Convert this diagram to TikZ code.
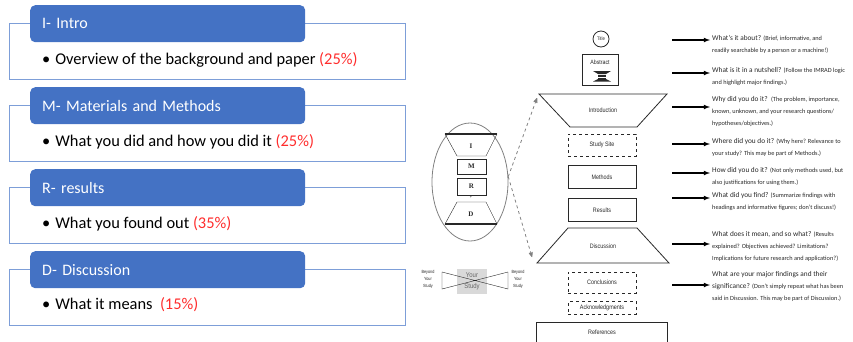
\documentclass[tikz,border=0pt]{standalone}
\usepackage{fontspec}
\setmainfont{Carlito}
\newfontfamily\narrowfont[FakeStretch=0.85]{Liberation Sans}
\newfontfamily\serifbold{Liberation Serif}
\usetikzlibrary{positioning, arrows, shapes}

\definecolor{hdrblue}{RGB}{68,114,196}
\definecolor{panelblue}{RGB}{125,158,216}
\definecolor{pctred}{RGB}{255,45,45}
\definecolor{inkgray}{RGB}{40,40,40}

\newcommand{\pct}[1]{\textcolor{pctred}{#1}}
\newcommand{\qmain}{\fontsize{7.3}{10.3}\selectfont}
\newcommand{\qnote}{\fontsize{6.3}{10.3}\selectfont}

\begin{document}
\begin{tikzpicture}[x=1pt, y=-1pt, >=latex,
    panel/.style={draw=panelblue, line width=1.2pt, minimum width=396pt, minimum height=56pt, anchor=north west, inner sep=0pt},
    hdr/.style={fill=hdrblue, rounded corners=5pt, minimum height=37pt, text width=251pt, inner xsep=12pt, align=left, anchor=north west, text=white, font=\fontsize{16}{19}\selectfont},
    bul/.style={anchor=west, inner sep=0pt, font=\fontsize{16.4}{19}\selectfont},
    part/.style={draw=inkgray, thick, minimum width=68pt, text=inkgray, font=\narrowfont\fontsize{6.4}{7}\selectfont},
    opt/.style={part, dashed},
    trap/.style={draw=inkgray, thick},
    lbl/.style={text=inkgray, inner sep=0pt, font=\narrowfont\fontsize{6.4}{7}\selectfont},
    letter/.style={draw=inkgray, minimum width=29pt, text=inkgray, font=\serifbold\bfseries\fontsize{7}{8}\selectfont},
    tiny/.style={text=inkgray, inner sep=0pt, align=center, font=\narrowfont\fontsize{4.5}{7}\selectfont},
    ask/.style={anchor=north west, inner sep=0pt, align=left, text=inkgray},
    qarrow/.style={->, line width=1.1pt},
    linkarrow/.style={->, dashed, gray, thick, >=stealth'}
  ]
  \useasboundingbox (0,0) rectangle (853,341);

  % IMRAD panels
  \node[panel] (introbox) at (9,23) {};
  \node[hdr] (introhdr) at (30,5) {I- Intro};
  \node[bul] (introtxt) at (42,60) {\textbullet\hspace{5pt}Overview of the background and paper \pct{(25\%)}};

  \node[panel] (methbox) at (9,105) {};
  \node[hdr] (methhdr) at (30,87) {M- Materials and Methods};
  \node[bul] (methtxt) at (42,142) {\textbullet\hspace{5pt}What you did and how you did it \pct{(25\%)}};

  \node[panel] (resbox) at (9,187) {};
  \node[hdr] (reshdr) at (30,169) {R- results};
  \node[bul] (restxt) at (42,224) {\textbullet\hspace{5pt}What you found out \pct{(35\%)}};

  \node[panel] (discbox) at (9,269) {};
  \node[hdr] (dischdr) at (30,251) {D- Discussion};
  \node[bul] (disctxt) at (42,305) {\textbullet\hspace{5pt}What it means~~\pct{(15\%)}};

  % hourglass in the oval
  \node[draw=gray, thick, ellipse, minimum width=76pt, minimum height=118pt] (imrad) at (470,182) {};
  \draw[draw=inkgray] (445,134) -- (497,134) -- (486,156) -- (457,156) -- cycle;
  \draw[draw=inkgray, line width=1.4pt] (445,134) -- (497,134);
  \node[lbl, font=\serifbold\bfseries\fontsize{7}{8}\selectfont] (iltr) at (471,146) {I};
  \node[letter, minimum height=15pt] (mltr) at (471.5,166.5) {M};
  \node[letter, minimum height=17pt] (rltr) at (471.5,186.5) {R};
  \node[tiny] (plus) at (471,197.5) {+};
  \draw[draw=inkgray] (457,202) -- (486,202) -- (497,224) -- (445,224) -- cycle;
  \draw[draw=inkgray, line width=1.4pt] (445,224) -- (497,224);
  \node[lbl, font=\serifbold\bfseries\fontsize{7}{8}\selectfont] (dltr) at (471,214) {D};

  % your study
  \node[fill=gray!30, minimum width=30pt, minimum height=25pt, text=gray!80!black, align=center, font=\narrowfont\fontsize{7}{6}\selectfont] (study) at (472,281.5) {Your\\[5pt]Study};
  \draw[inkgray] (442,272) -- (442,289) -- (508,272) -- (508,289) -- cycle;
  \node[tiny] (beyondl) at (428,279) {Beyond\\Your\\Study};
  \node[tiny] (beyondr) at (518,279) {Beyond\\Your\\Study};

  % paper layout
  \node[draw=inkgray, thick, circle, minimum size=16pt, inner sep=0pt, text=inkgray, font=\narrowfont\fontsize{5}{5}\selectfont] (title) at (601,39) {Title};
  \node[draw=inkgray, thick, minimum width=36pt, minimum height=31pt] (abstract) at (600,69.5) {};
  \node[lbl, font=\narrowfont\fontsize{6.2}{6}\selectfont] (abstxt) at (600,62) {Abstract};
  \fill[inkgray] (593,71) -- (611,71) -- (606,74) -- (598,74) -- cycle
                 (598,79) -- (606,79) -- (611,81.5) -- (593,81.5) -- cycle;
  \draw[inkgray, line width=0.6pt] (598,75.2) -- (606,75.2) (598,76.6) -- (606,76.6) (598,78) -- (606,78);

  \draw[trap] (539,94) coordinate (intronw) -- (667,94) -- (637,127) -- (570,127) -- cycle;
  \node[lbl] (intro) at (603,110) {Introduction};
  \node[opt, minimum height=22pt] (site) at (602,145) {Study Site};
  \node[part, minimum height=23pt, below=9pt of site] (methods) {Methods};
  \node[part, minimum height=23pt, below=9pt of methods] (results) {Results};
  \draw[trap] (568,228) -- (637,228) -- (669,263) -- (537,263) coordinate (discsw) -- cycle;
  \node[lbl] (discussion) at (603,246) {Discussion};
  \node[opt, minimum height=21pt] (concl) at (602,282.5) {Conclusions};
  \node[opt, minimum height=12pt, below=8pt of concl] (ack) {Acknowledgments};
  \node[part, minimum width=131pt, minimum height=20pt, below=7pt of ack] (refs) {References};

  \draw[linkarrow] (imrad.8) -- ([shift={(-2,4)}]intronw);
  \draw[linkarrow] (imrad.8) -- ([shift={(-5,-6)}]discsw);

  % questions
  \node[ask] (q1) at (712,35) {\qmain What's it about? \qnote(Brief, informative, and\\\qnote readily searchable by a person or a machine!)};
  \node[ask] (q2) at (712,67) {\qmain What is it in a nutshell? \qnote(Follow the IMRAD logic\\\qnote and highlight major findings.)};
  \node[ask] (q3) at (712,96) {\qmain Why did you do it?~~\qnote(The problem, importance,\\\qnote known, unknown, and your research questions/\\\qnote hypotheses/objectives.)};
  \node[ask] (q4) at (712,138) {\qmain Where did you do it? \qnote(Why here? Relevance to\\\qnote your study? This may be part of Methods.)};
  \node[ask] (q5) at (712,167) {\qmain How did you do it? \qnote(Not only methods used, but\\\qnote also justifications for using them.)};
  \node[ask] (q6) at (712,192) {\qmain What did you find? \qnote(Summarize findings with\\\qnote headings and informative figures; don't discuss!)};
  \node[ask] (q7) at (712,231) {\qmain What does it mean, and so what? \qnote(Results\\\qnote explained? Objectives achieved? Limitations?\\\qnote Implications for future research and application?)};
  \node[ask] (q8) at (712,271) {\qmain What are your major findings and their\\\qmain significance? \qnote(Don't simply repeat what has been\\\qnote said in Discussion. This may be part of Discussion.)};

  \coordinate (a1) at (672,40);
  \coordinate (a2) at (672,73);
  \coordinate (a3) at (672,107);
  \coordinate (a4) at (672,144);
  \coordinate (a5) at (672,173);
  \coordinate (a6) at (672,198);
  \coordinate (a7) at (672,244);
  \coordinate (a8) at (672,285);
  \foreach \i in {1,...,8}
    \draw[qarrow] (a\i) -- ([xshift=-2pt]a\i -| q\i.west);
\end{tikzpicture}
\end{document}
